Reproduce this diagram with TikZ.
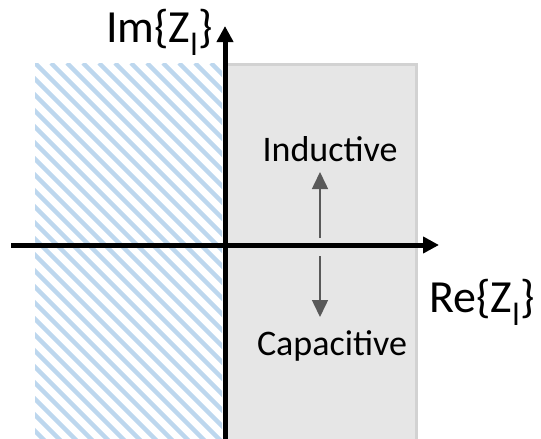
\documentclass[tikz,border=0pt]{standalone}
\usepackage{fontspec}
\setmainfont{Carlito}
\usetikzlibrary{arrows.meta}
\definecolor{hatchblue}{RGB}{189,215,238}
\definecolor{regiongray}{RGB}{230,230,230}
\definecolor{regionedge}{RGB}{210,210,210}
\definecolor{arrowgray}{RGB}{89,89,89}
\tikzset{
  axis/.style={line width=5pt, -{Triangle[length=16pt,width=16pt]}},
  hatchline/.style={hatchblue, line width=4.5pt},
  smallarrow/.style={arrowgray, line width=1.5pt, -{Triangle[length=17pt,width=16pt]}},
  biglabel/.style={font=\fontsize{46}{52}\selectfont, inner sep=0pt},
  midlabel/.style={font=\fontsize{36}{42}\selectfont, inner sep=0pt},
}
\begin{document}
\begin{tikzpicture}[x=1pt,y=-1pt]
\useasboundingbox (0,0) rectangle (541,439);
% right half-plane region
\filldraw[fill=regiongray, draw=regionedge, line width=3pt] (224,64.5) rectangle (416.5,445);
% hatched left half-plane
\begin{scope}
\clip (35,63) rectangle (222,439);
\foreach \i in {-30,...,15} {
  \draw[hatchline] ({35+\i*16},63) -- ++(420,420);
}
\end{scope}
% axes
\coordinate (origin) at (225,245);
\coordinate (ybot) at (225,439);
\coordinate (ytop) at (225,26);
\coordinate (xleft) at (11,245);
\coordinate (xright) at (439,245);
\draw[axis] (ybot) -- (ytop);
\draw[axis] (xleft) -- (xright);
% labels
\node[biglabel, anchor=base east] (imlab) at (213,42) {Im\{Z\textsubscript{l}\}};
\node[biglabel, anchor=base west] (relab) at (429,312) {Re\{Z\textsubscript{l}\}};
\node[midlabel, anchor=base] (ind) at (330,161) {Inductive};
\node[midlabel, anchor=base] (cap) at (332,355) {Capacitive};
% small arrows
\coordinate (upfrom) at (320,238);
\coordinate (upto) at (320,172);
\coordinate (downfrom) at (320,256);
\coordinate (downto) at (320,317);
\draw[smallarrow] (upfrom) -- (upto);
\draw[smallarrow] (downfrom) -- (downto);
\end{tikzpicture}
\end{document}
